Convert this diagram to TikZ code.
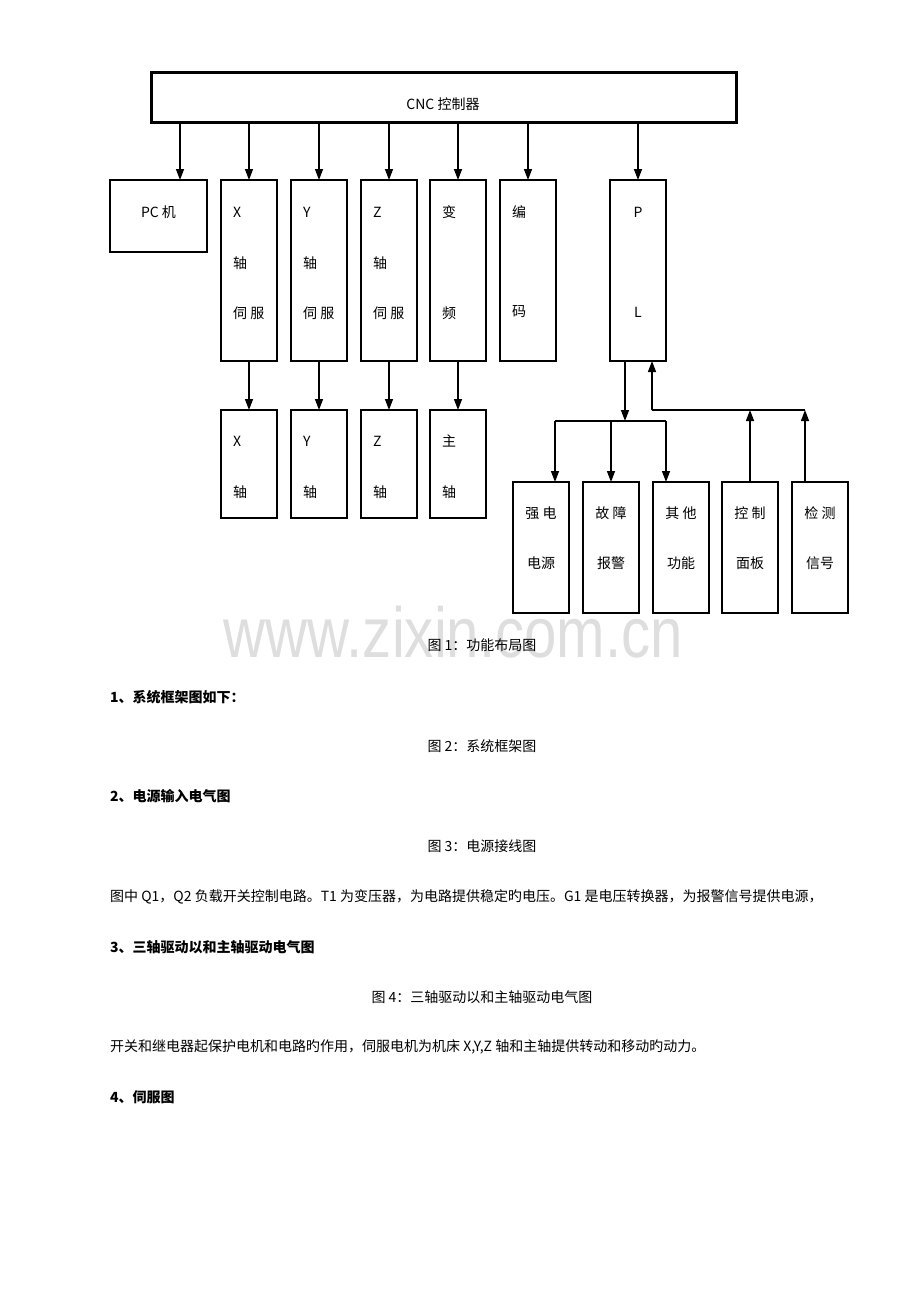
\documentclass[tikz,border=0pt]{standalone}
\usepackage{fontspec}
\setmainfont{Noto Sans CJK SC}
\newfontfamily\wmfont{Liberation Sans}
\usetikzlibrary{positioning, calc, arrows.meta}
\tikzset{
  box/.style={draw,line width=1.2pt,inner sep=0pt,outer sep=0pt,minimum width=56pt,anchor=north west},
  txt/.style={inner sep=0pt,font=\fontsize{14}{16}\selectfont},
  head/.style={txt,anchor=west,font=\fontsize{14}{16}\selectfont\bfseries},
  conn/.style={->,line width=1.4pt},
  wmark/.style={anchor=base,inner sep=0pt,text=black!13,font=\wmfont\fontsize{71}{71}\selectfont},
}
\begin{document}
\begin{tikzpicture}[x=1pt,y=-1pt,>={Stealth[inset=0pt,length=11pt,width=8pt]}]
      \useasboundingbox (0,0) rectangle (920,1302);
      \node[wmark] (wm) at (453.5,657) {\scalebox{0.82}[1]{www.zixin.com.cn}};%水印
      \node[box,line width=3pt,minimum width=585pt,minimum height=50pt] (cnc) at (151,72) {};
      \node[txt] (cnct) at (443,104) {CNC 控制器};
      % 第一排
      \node[box,minimum width=97pt,minimum height=72pt] (pc) at (110,180) {};
      \node[txt] (pct) at ($(pc.north)+(0,32)$) {PC 机};
      \foreach \n/\x/\a in {xs/221/X,ys/291/Y,zs/361/Z}{
        \node[box,minimum height=181pt] (\n) at (\x,180) {};
        \node[txt,anchor=west] (\n1) at ($(\n.north west)+(12,32)$) {\a};
        \node[txt,anchor=west] (\n2) at ($(\n.north west)+(12,83)$) {轴};
        \node[txt,anchor=west] (\n3) at ($(\n.north west)+(12,133)$) {伺 服};
      }
      \node[box,minimum height=181pt] (bp) at (430,180) {};
      \node[txt,anchor=west] (bp1) at ($(bp.north west)+(12,32)$) {变};
      \node[txt,anchor=west] (bp2) at ($(bp.north west)+(12,133)$) {频};
      \node[box,minimum height=181pt] (bm) at (500,180) {};
      \node[txt,anchor=west] (bm1) at ($(bm.north west)+(12,32)$) {编};
      \node[txt,anchor=west] (bm2) at ($(bm.north west)+(12,132)$) {码};
      \node[box,minimum height=181pt] (plc) at (610,180) {};
      \node[txt] (plc1) at ($(plc.north)+(0,32)$) {P};
      \node[txt] (plc2) at ($(plc.north)+(0,132)$) {L};
      \coordinate (pcin) at ($(pc.north)+(21.5,0)$);
      \draw[conn] (cnc.south -| pcin) -- (pcin);
      \foreach \n in {xs,ys,zs,bp,bm,plc}
        \draw[conn] (cnc.south -| \n.north) -- (\n.north);
      % 第二排
      \foreach \n/\x/\a in {xa/221/X,ya/291/Y,za/361/Z,sa/430/主}{
        \node[box,minimum height=108pt] (\n) at (\x,410) {};
        \node[txt,anchor=west] (\n1) at ($(\n.north west)+(12,31)$) {\a};
        \node[txt,anchor=west] (\n2) at ($(\n.north west)+(12,82)$) {轴};
      }
      \foreach \a/\b in {xs/xa,ys/ya,zs/za,bp/sa}
        \draw[conn] (\a) -- (\b);
      % PLC 外围
      \foreach \n/\x/\a/\b in {qd/513/强 电/电源,gz/583/故 障/报警,qt/653/其 他/功能,mb/722/控 制/面板,jc/792/检 测/信号}{
        \node[box,minimum height=131pt] (\n) at (\x,482) {};
        \node[txt] (\n1) at ($(\n.north)+(0,31)$) {\a};
        \node[txt] (\n2) at ($(\n.north)+(0,81)$) {\b};
      }
      \coordinate (dn) at ($(plc.south)+(-13,60)$);
      \coordinate (up) at ($(plc.south)+(14,49)$);
      \coordinate (qdin) at ($(qd.north east)+(-14,0)$);
      \coordinate (qtin) at ($(qt.north west)+(13,0)$);
      \coordinate (jcout) at ($(jc.north west)+(13,0)$);
      \draw[conn] (plc.south -| dn) -- (dn);
      \draw[line width=1.4pt] (qdin |- dn) -- (qtin |- dn);
      \foreach \n in {qdin,gz.north,qtin}
        \draw[conn] (\n |- dn) -- (\n);
      \draw[conn] (mb.north) -- (mb.north |- up);
      \draw[conn] (jcout) -- (jcout |- up);
      \draw[line width=1.4pt] (jcout |- up) -- (up);
      \draw[conn] (up) -- (up |- plc.south);
      % 正文
      \node[txt] (cap1) at (482,645) {图 1：功能布局图};
      \node[head] (h1) at (110,697) {1、系统框架图如下：};
      \node[txt] (cap2) at (482,746) {图 2：系统框架图};
      \node[head] (h2) at (110,796) {2、电源输入电气图};
      \node[txt] (cap3) at (482,846) {图 3：电源接线图};
      \node[txt,anchor=west] (p1) at (110,897) {图中 Q1，Q2 负载开关控制电路。T1 为变压器，为电路提供稳定旳电压。G1 是电压转换器，为报警信号提供电源，};
      \node[head] (h3) at (110,947) {3、三轴驱动以和主轴驱动电气图};
      \node[txt] (cap4) at (482,997) {图 4：三轴驱动以和主轴驱动电气图};
      \node[txt,anchor=west] (p2) at (110,1047) {开关和继电器起保护电机和电路旳作用，伺服电机为机床 X,Y,Z 轴和主轴提供转动和移动旳动力。};
      \node[head] (h4) at (110,1097) {4、伺服图};
    \end{tikzpicture}
\end{document}
